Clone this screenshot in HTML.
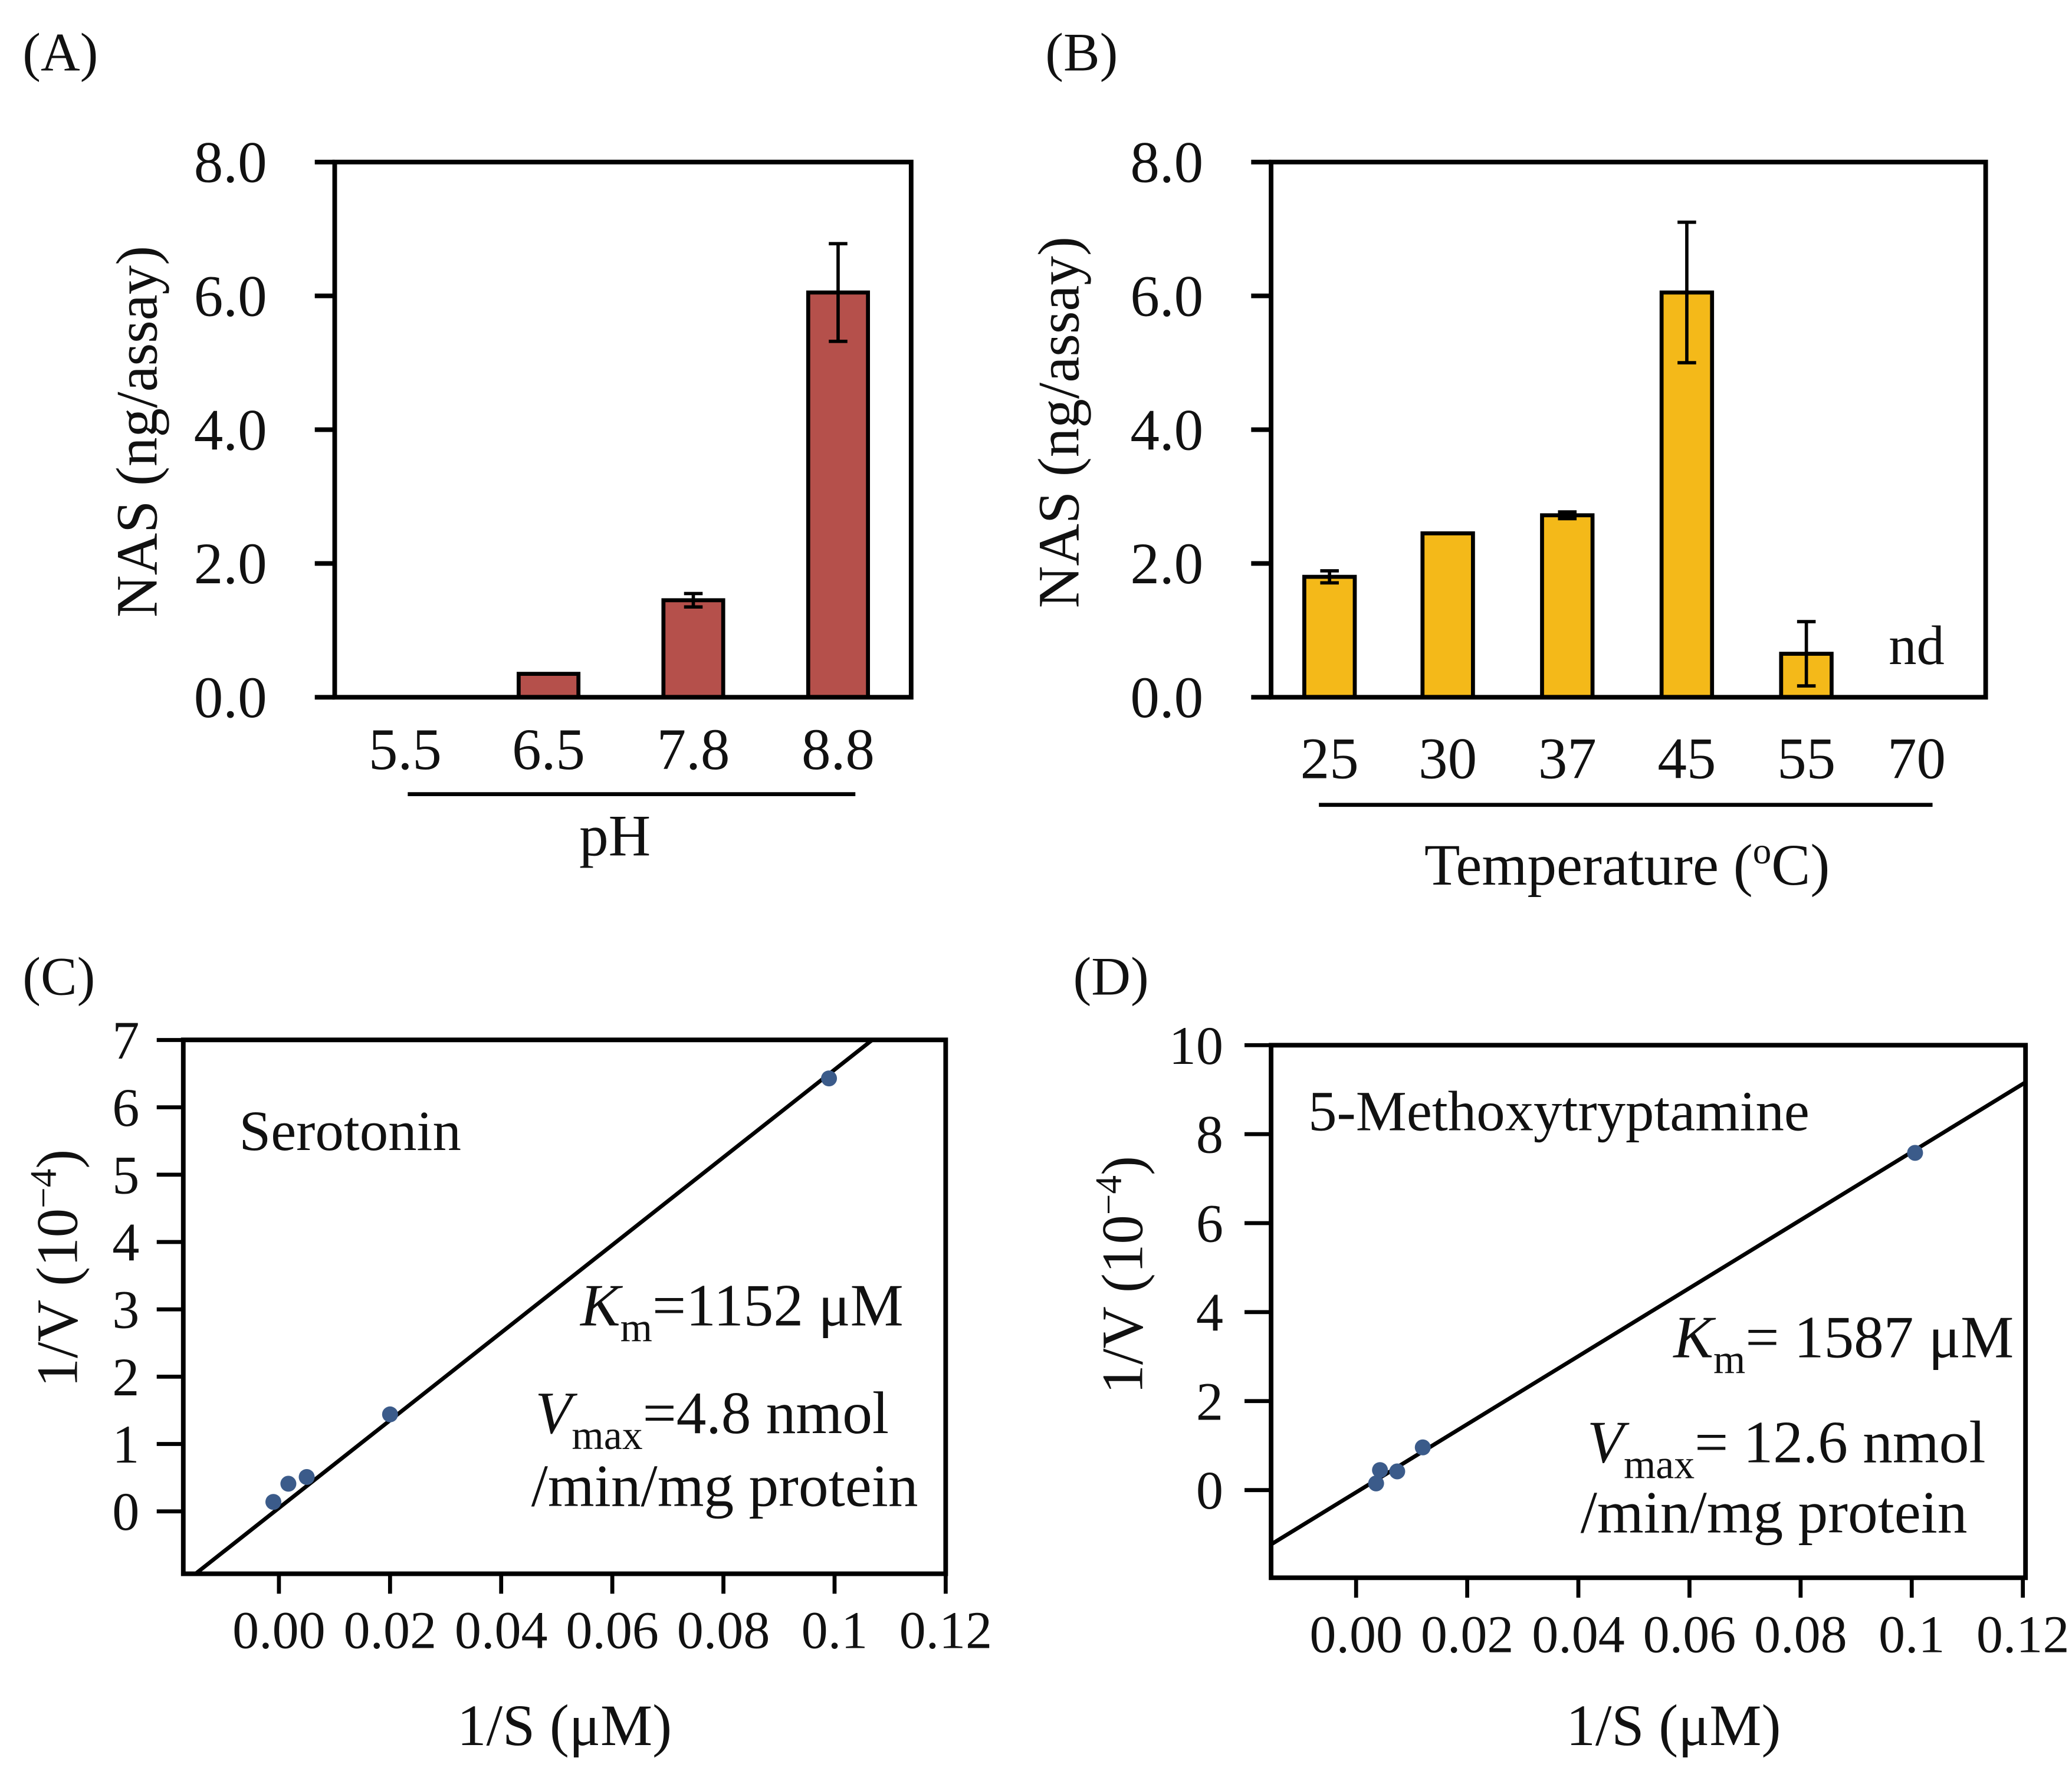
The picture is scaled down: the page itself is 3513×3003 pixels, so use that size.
<!DOCTYPE html>
<html><head><meta charset="utf-8"><style>html,body{margin:0;padding:0;background:#fff}svg{display:block}text{font-family:"Liberation Serif",serif;fill:#111}</style></head>
<body>
<svg id="fig" width="3513" height="3003" viewBox="0 0 1560 1333.5" xmlns="http://www.w3.org/2000/svg">
<rect width="1560" height="1333.5" fill="#fff"/>
<g id="root"></g>
</svg>
<script>
// Panel A data
const phCats = ["5.5","6.5","7.8","8.8"];
const phVals = [0, 0.35, 1.45, 6.05];
const phErr = [0, 0.02, 0.1, 0.73];
// Panel B data
const tempCats = ["25","30","37","45","55","70"];
const tempVals = [1.8, 2.45, 2.72, 6.05, 0.65, null];
const tempErr = [0.09, 0, 0.05, 1.05, 0.48, 0];
const barTicks = [0, 2, 4, 6, 8];
const barTickLabels = ["0.0","2.0","4.0","6.0","8.0"];
// Panel C data
const serX = [-0.001, 0.0017, 0.005, 0.02, 0.099];
const serY = [0.14, 0.41, 0.51, 1.44, 6.43];
const serFit = [65.1, 0.05]; // slope, intercept
const cYTicks = [0,1,2,3,4,5,6,7];
// Panel D data
const metX = [0.0036, 0.0043, 0.0074, 0.012, 0.1006];
const metY = [0.15, 0.45, 0.42, 0.96, 7.58];
const metFit = [76.5, -0.05];
const dYTicks = [0,2,4,6,8,10];
const lwXTicks = [0, 0.02, 0.04, 0.06, 0.08, 0.1, 0.12];
const lwXTickLabels = ["0.00","0.02","0.04","0.06","0.08","0.1","0.12"];

const NS = "http://www.w3.org/2000/svg";
const root = document.getElementById('root');
function el(tag, attrs, parent, txt){
  const e = document.createElementNS(NS, tag);
  for (const k in attrs) e.setAttribute(k, attrs[k]);
  if (txt !== undefined) e.textContent = txt;
  (parent || root).appendChild(e);
  return e;
}
function txt(x,y,s,size,anchor,parent,name,rot){
  const t = el('text',{x:x,y:y,'font-size':size,'text-anchor':anchor||'middle'},parent,s);
  
  
  if (rot) t.setAttribute('transform','rotate(-90 '+x+' '+y+')');
  return t;
}

function barPanel(opt){
  const g = el('g',{});
  
  
  const y = v => opt.y0 - (v/8)*(opt.y0-opt.y8);
  barTicks.forEach((t,i)=>{
    const l = el('line',{x1:opt.L-15,x2:opt.L,y1:y(t),y2:y(t),stroke:'#000','stroke-width':3.5},g);
    
    
    txt(opt.L-51, y(t)+15, barTickLabels[i], 44, 'end', g, 'y-tick-label');
  });
  opt.cats.forEach((c,i)=>{
    const cx = opt.cx[i];
    const v = opt.vals[i];
    if (v !== null && v > 0){
      const r = el('rect',{x:cx-opt.bw/2,y:y(v),width:opt.bw,height:y(0)-y(v),fill:opt.color,stroke:'#000','stroke-width':3},g);
      
      
      const e = opt.err[i];
      if (e > 0.03){
        const eb = el('path',{d:`M${cx-7},${y(v+e)}H${cx+7}M${cx},${y(v+e)}V${y(v-e)}M${cx-7},${y(v-e)}H${cx+7}`,stroke:'#000','stroke-width':2.5,fill:'none'},g);
        
        
      }
    } else if (v === null){
      txt(cx, 500, 'nd', 42, 'middle', g, 'nd-label');
    }
    txt(opt.cx[i], opt.labY, c, 44, 'middle', g, 'x-tick-label');
  });
  const f = el('rect',{x:opt.L,y:opt.y8,width:opt.R-opt.L,height:opt.y0-opt.y8,fill:'none',stroke:'#000','stroke-width':3.5},g);
  
  
  const ul = el('line',{x1:opt.ul[0],x2:opt.ul[1],y1:opt.ul[2],y2:opt.ul[2],stroke:'#000','stroke-width':3},g);
  
  
  return g;
}

const gA = barPanel({name:'panel-a',L:252,R:686,y0:525,y8:122,cats:phCats,vals:phVals,err:phErr,cx:[305,413,522,631],bw:45,color:'#B5504B',labY:579,ul:[307,644,598]});
txt(463, 644, 'pH', 44, 'middle', gA, 'x-axis-title');
txt(118, 325, 'NAS (ng/assay)', 44, 'middle', gA, 'y-axis-title', true);
txt(17, 53, '(A)', 41, 'start', gA, 'panel-label-a');

const gB = barPanel({name:'panel-b',L:957,R:1495,y0:525,y8:122,cats:tempCats,vals:tempVals,err:tempErr,cx:[1001,1090,1180,1270,1360,1443],bw:38,color:'#F4B919',labY:586,ul:[993,1455,606]});
const tt = txt(1225, 666, 'Temperature (', 44, 'middle', gB, 'x-axis-title');
el('tspan',{'font-size':28,dy:-16},tt,'o');
el('tspan',{dy:16},tt,'C)');
txt(812, 318, 'NAS (ng/assay)', 44, 'middle', gB, 'y-axis-title', true);
txt(787, 53, '(B)', 41, 'start', gB, 'panel-label-b');

function lwPanel(opt){
  const g = el('g',{});
  
  
  const X = v => opt.x0 + v*(opt.x12-opt.x0)/0.12;
  const Y = v => opt.yz - v*opt.pu;
  opt.yticks.forEach(t=>{
    const l = el('line',{x1:opt.L-20,x2:opt.L,y1:Y(t),y2:Y(t),stroke:'#000','stroke-width':3},g);
    
    
    txt(opt.L-opt.lo, Y(t)+14, String(t), 41, 'end', g, 'y-tick-label');
  });
  lwXTicks.forEach((t,i)=>{
    const l = el('line',{x1:X(t),x2:X(t),y1:opt.B,y2:opt.B+15,stroke:'#000','stroke-width':3},g);
    
    
    txt(X(t), opt.B+56, lwXTickLabels[i], 40, 'middle', g, 'x-tick-label');
  });
  const cp = el('clipPath',{id:'clip-'+opt.name},g);
  el('rect',{x:opt.L,y:opt.T,width:opt.R-opt.L,height:opt.B-opt.T},cp);
  const xa = (opt.L-opt.x0)/(opt.x12-opt.x0)*0.12, xb = (opt.R-opt.x0)/(opt.x12-opt.x0)*0.12;
  const ln = el('line',{x1:X(xa),y1:Y(opt.fit[0]*xa+opt.fit[1]),x2:X(xb),y2:Y(opt.fit[0]*xb+opt.fit[1]),stroke:'#000','stroke-width':3,'clip-path':'url(#clip-'+opt.name+')'},g);
  
  
  opt.xs.forEach((xv,i)=>{
    const c = el('circle',{cx:X(xv),cy:Y(opt.ys[i]),r:6,fill:'#3B5B8A'},g);
    
    
  });
  const f = el('rect',{x:opt.L,y:opt.T,width:opt.R-opt.L,height:opt.B-opt.T,fill:'none',stroke:'#000','stroke-width':3.5},g);
  
  
  return g;
}

const gC = lwPanel({name:'panel-c',L:138,R:712,T:783,B:1185,x0:210,x12:712,yz:1138,pu:50.7,yticks:cYTicks,xs:serX,ys:serY,fit:serFit,lo:33});
txt(180, 866, 'Serotonin', 43, 'start', gC, 'substrate-label');
let k = txt(437, 998, '', 45, 'start', gC, 'km-label');
el('tspan',{'font-style':'italic'},k,'K');
el('tspan',{'font-size':31,dy:12},k,'m');
el('tspan',{dy:-12},k,'=1152 μM');
let v = txt(403, 1079, '', 45, 'start', gC, 'vmax-label');
el('tspan',{'font-style':'italic'},v,'V');
el('tspan',{'font-size':31,dy:12},v,'max');
el('tspan',{dy:-12},v,'=4.8 nmol');
txt(400, 1134, '/min/mg protein', 45, 'start', gC, 'vmax-unit-label');
const yc = txt(58, 955, '1/V (10', 44, 'middle', gC, 'y-axis-title', true);
el('tspan',{'font-size':28,dy:-16},yc,'−4');
el('tspan',{dy:16},yc,')');
txt(425, 1314, '1/S (μM)', 44, 'middle', gC, 'x-axis-title');
txt(17, 749, '(C)', 41, 'start', gC, 'panel-label-c');

const gD = lwPanel({name:'panel-d',L:957,R:1525,T:787,B:1188,x0:1021,x12:1523,yz:1122,pu:33.5,yticks:dYTicks,xs:metX,ys:metY,fit:metFit,lo:36});
txt(985, 851, '5-Methoxytryptamine', 43, 'start', gD, 'substrate-label');
k = txt(1260, 1022, '', 45, 'start', gD, 'km-label');
el('tspan',{'font-style':'italic'},k,'K');
el('tspan',{'font-size':31,dy:12},k,'m');
el('tspan',{dy:-12},k,'= 1587 μM');
v = txt(1195, 1101, '', 45, 'start', gD, 'vmax-label');
el('tspan',{'font-style':'italic'},v,'V');
el('tspan',{'font-size':31,dy:12},v,'max');
el('tspan',{dy:-12},v,'= 12.6 nmol');
txt(1190, 1154, '/min/mg protein', 45, 'start', gD, 'vmax-unit-label');
const yd = txt(860, 960, '1/V (10', 44, 'middle', gD, 'y-axis-title', true);
el('tspan',{'font-size':28,dy:-16},yd,'−4');
el('tspan',{dy:16},yd,')');
txt(1260, 1314, '1/S (μM)', 44, 'middle', gD, 'x-axis-title');
txt(808, 749, '(D)', 41, 'start', gD, 'panel-label-d');
</script>
</body></html>
